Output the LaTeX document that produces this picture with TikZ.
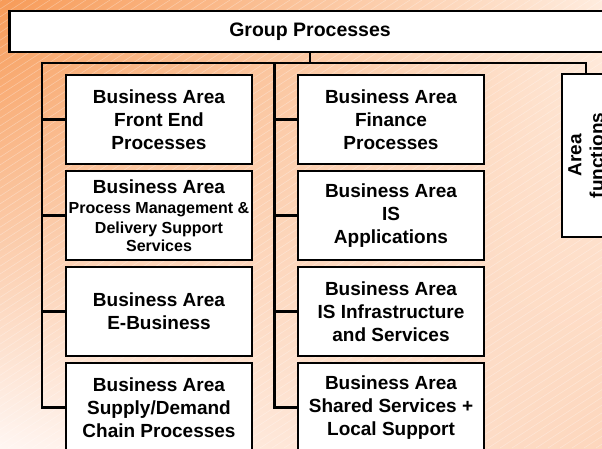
\documentclass[tikz,border=0pt]{standalone}
\usepackage{fontspec}
\setmainfont{Liberation Sans}
\usetikzlibrary{shadings}
\begin{document}
\begin{tikzpicture}[x=1pt,y=-1pt,
  conn/.style={line width=2.2pt,line join=miter},
  box/.style={draw=black,line width=2.2pt,fill=white,align=center,
    minimum width=186pt,minimum height=89pt,inner sep=0pt,
    font=\bfseries\fontsize{19}{23}\selectfont},
  stripe/.style={white,opacity=0.3,line width=0.6pt}]
\definecolor{bgA}{RGB}{247,155,88}
\definecolor{bgB}{RGB}{255,236,222}
\definecolor{bgC}{RGB}{255,246,242}
\definecolor{bgD}{RGB}{253,214,188}
\useasboundingbox (0,0) rectangle (602,448);
\shade[upper left=bgA,upper right=bgB,lower left=bgC,lower right=bgD] (0,0) rectangle (602,448);
\begin{scope}
\clip (0,0) rectangle (602,448);
\foreach \i in {-700,-688,...,602} \draw[stripe] (\i,448) -- ++(690,-448);
% top box
\node[draw=black,line width=2.2pt,fill=white,minimum width=601pt,minimum height=41pt,inner sep=0pt,
  font=\bfseries\fontsize{19.5}{23}\selectfont] (top) at (310,31.5) {Group Processes};
% left column
\node[box] (L1) at (159,119.5) {Business Area\\Front End\\Processes};
\node[box] (L2) at (159,215.5) {Business Area\\[-3pt]{\fontsize{16}{20}\selectfont Process Management \&}\\[-3pt]{\fontsize{16}{20}\selectfont Delivery Support}\\[-5pt]{\fontsize{16}{20}\selectfont Services}};
\node[box] (L3) at (159,311.5) {Business Area\\E-Business};
\node[box] (L4) at (159,407.5) {Business Area\\Supply/Demand\\Chain Processes};
% middle column
\node[box] (M1) at (391,119.5) {Business Area\\Finance\\Processes};
\node[box] (M2) at (391,215.5) {Business Area\\IS\\Applications};
\node[box] (M3) at (391,311.5) {Business Area\\IS Infrastructure\\and Services};
\node[box] (M4) at (391,407.5) {Business Area\\Shared Services +\\Local Support};
% right box
\node[draw=black,line width=2.2pt,fill=white,minimum width=163pt,minimum height=48pt,inner sep=0pt,
  align=center,rotate=90,font=\bfseries\fontsize{19}{22}\selectfont] (R) at (586,155.5) {Area\\functions};
% connectors
\coordinate (lx) at (42,63);
\coordinate (mx) at (274.5,63);
\coordinate (rx) at (586,63);
\draw[conn] (top.south) -- (top.south |- lx);
\draw[conn] (L4.west) -| (lx) -- (rx) -- (R.east);
\draw[conn] (M4.west) -| (mx);
\foreach \n in {L1,L2,L3} \draw[conn] (\n.west) -- (\n.west -| lx);
\foreach \n in {M1,M2,M3} \draw[conn] (\n.west) -- (\n.west -| mx);
\end{scope}
\end{tikzpicture}
\end{document}
